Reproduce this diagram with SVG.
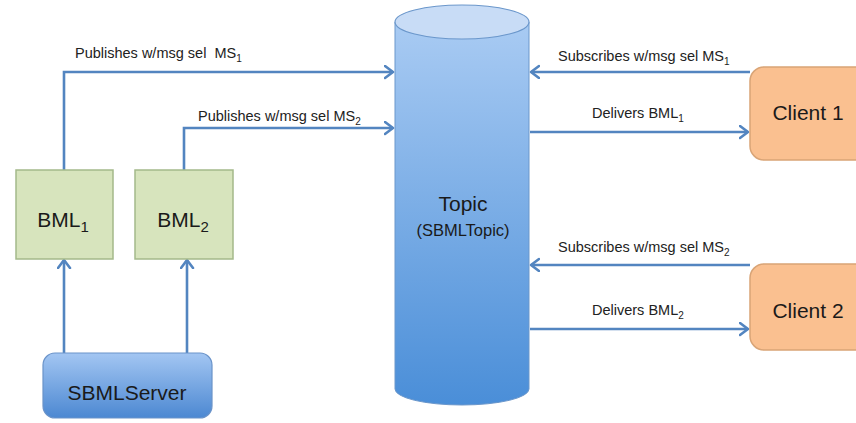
<svg xmlns="http://www.w3.org/2000/svg" width="856" height="423" viewBox="0 0 856 423">
<defs>
<linearGradient id="cylG" x1="0" y1="0" x2="0" y2="1">
<stop offset="0" stop-color="#a9cbf3"/>
<stop offset="1" stop-color="#4a8ed8"/>
</linearGradient>
<linearGradient id="srvG" x1="0" y1="0" x2="0" y2="1">
<stop offset="0" stop-color="#a3c6f2"/>
<stop offset="1" stop-color="#4c88d2"/>
</linearGradient>
<marker id="arr" markerUnits="userSpaceOnUse" markerWidth="14" markerHeight="16" refX="9" refY="7" orient="auto">
<path d="M1,1 L9,7 L1,13" fill="none" stroke="#5385c0" stroke-width="2.6" stroke-linecap="round" stroke-linejoin="round"/>
</marker>
</defs>
<style>
.ln{fill:none;stroke:#5385c0;stroke-width:2.6;marker-end:url(#arr)}
.lbl{font-family:"Liberation Sans",Arial,sans-serif;font-size:14.5px;fill:#222;white-space:pre}
.sub{font-size:10px}
.big{font-family:"Liberation Sans",Arial,sans-serif;font-size:21px;fill:#1a1a1a;text-anchor:middle}
.bml{fill:#d7e4bd;stroke:#a4b98a;stroke-width:1.5}
.cli{fill:#fac090;stroke:#d9a476;stroke-width:1.5}
</style>
<rect width="856" height="423" fill="#ffffff"/>
<g id="connectors">
<path class="ln" d="M64,170 V72 H393"/>
<path class="ln" d="M184,170 V128 H393"/>
<path class="ln" d="M750,72 H531"/>
<path class="ln" d="M530,132 H748"/>
<path class="ln" d="M750,265 H531"/>
<path class="ln" d="M530,329 H748"/>
<path class="ln" d="M64,353 V260"/>
<path class="ln" d="M187,353 V260"/>
</g>
<g id="labels">
<text class="lbl" x="75" y="58">Publishes w/msg sel  MS<tspan class="sub" dy="4">1</tspan></text>
<text class="lbl" x="198" y="121">Publishes w/msg sel MS<tspan class="sub" dy="4">2</tspan></text>
<text class="lbl" x="558" y="61">Subscribes w/msg sel MS<tspan class="sub" dy="4">1</tspan></text>
<text class="lbl" x="592" y="118">Delivers BML<tspan class="sub" dy="4">1</tspan></text>
<text class="lbl" x="558" y="252">Subscribes w/msg sel MS<tspan class="sub" dy="4">2</tspan></text>
<text class="lbl" x="592" y="315">Delivers BML<tspan class="sub" dy="4">2</tspan></text>
</g>
<g id="topic">
<path d="M395,22 L395,389 A67,16 0 0 0 529,389 L529,22 Z" fill="url(#cylG)" stroke="#6b97cb" stroke-width="1"/>
<ellipse cx="462" cy="22" rx="67" ry="17" fill="#c8dcf6" stroke="#6b97cb" stroke-width="1.2"/>
<text class="big" x="463" y="211" style="font-size:21px">Topic</text>
<text class="big" x="463" y="236" style="font-size:16.5px">(SBMLTopic)</text>
</g>
<g id="bml1">
<rect class="bml" x="16" y="170" width="97" height="89"/>
<text class="big" x="63" y="227">BML<tspan style="font-size:15px" dy="5">1</tspan></text>
</g>
<g id="bml2">
<rect class="bml" x="135" y="170" width="98" height="89"/>
<text class="big" x="183" y="227">BML<tspan style="font-size:15px" dy="5">2</tspan></text>
</g>
<g id="sbmlserver">
<rect x="43" y="353" width="169" height="65" rx="12" fill="url(#srvG)" stroke="#6a93c9" stroke-width="1.2"/>
<text class="big" x="127" y="400">SBMLServer</text>
</g>
<g id="client1">
<rect class="cli" x="750" y="67" width="130" height="93" rx="14"/>
<text class="big" x="808" y="120">Client 1</text>
</g>
<g id="client2">
<rect class="cli" x="750" y="264" width="130" height="86" rx="14"/>
<text class="big" x="808" y="318">Client 2</text>
</g>
</svg>
